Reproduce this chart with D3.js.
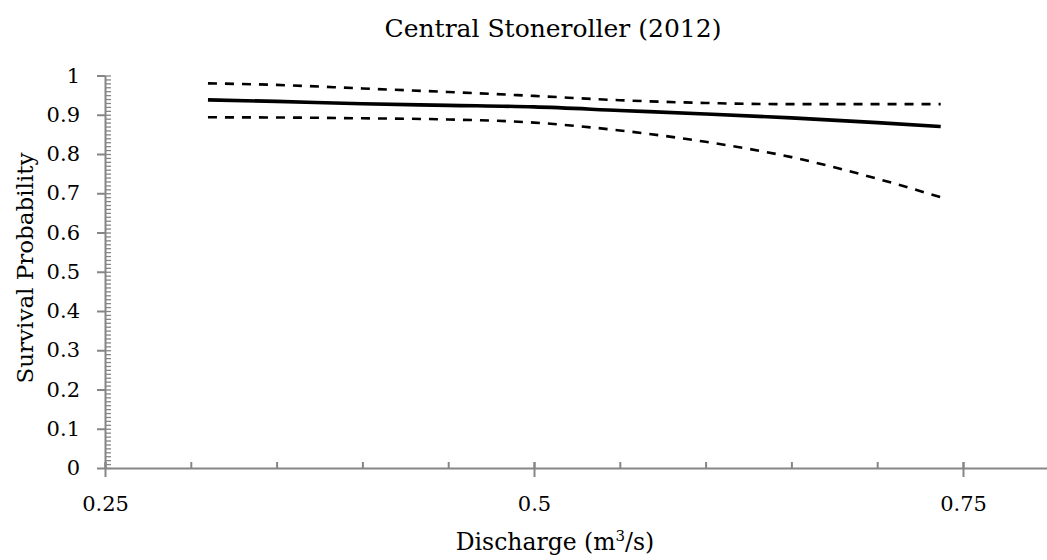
<!DOCTYPE html>
<html><head><meta charset="utf-8">
<script src="https://cdn.jsdelivr.net/npm/d3@7/dist/d3.min.js"></script>
<style>body{margin:0;background:#fff}svg{display:block}text{font-family:"DejaVu Serif",serif;fill:#000}</style>
</head><body><svg id="c" width="1047" height="560"></svg>
<script>
const discharge = [0.31, 0.35, 0.40, 0.45, 0.50, 0.55, 0.60, 0.65, 0.70, 0.737];
const survival  = [0.938, 0.934, 0.928, 0.924, 0.920, 0.911, 0.902, 0.892, 0.880, 0.870];
const upperCI   = [0.980, 0.976, 0.967, 0.958, 0.948, 0.937, 0.930, 0.927, 0.927, 0.927];
const lowerCI   = [0.8935, 0.893, 0.891, 0.888, 0.880, 0.860, 0.831, 0.792, 0.737, 0.690];
const xTickLabels = [0.25, 0.5, 0.75];
const yTickLabels = [0, 0.1, 0.2, 0.3, 0.4, 0.5, 0.6, 0.7, 0.8, 0.9, 1];

const svg = d3.select("#c");
const x = d3.scaleLinear().domain([0.25, 0.8]).range([105, 1048.8]);
const y = d3.scaleLinear().domain([0, 1]).range([468, 75.5]);
const grey = "#868686";
const FONT = '"DejaVu Serif",serif';

// y minor ticks (inside)
const yMinor = d3.range(0, 101).map(i => i / 100);
svg.append("g").attr("transform", `translate(${x(0.25)},0)`)
  .call(d3.axisRight(y).tickValues(yMinor).tickSize(6).tickFormat(""))
  .call(g => { g.select(".domain").remove(); g.selectAll("line").attr("stroke", grey).attr("stroke-width", 1.3); });
// y major
svg.append("g").attr("transform", `translate(${x(0.25)},0)`)
  .call(d3.axisLeft(y).tickValues(yTickLabels).tickSize(8).tickSizeOuter(0).tickPadding(17)
        .tickFormat(d => d === 0 ? "0" : d === 1 ? "1" : d3.format(".1f")(d)))
  .call(g => {
    g.select(".domain").attr("stroke", grey).attr("stroke-width", 2);
    g.selectAll("line").attr("stroke", grey).attr("stroke-width", 2);
    g.selectAll("text").style("font-family", FONT).style("font-size", "21px").attr("fill", "#000");
  });
// x minor ticks (up)
const xMinor = d3.range(0, 11).map(i => 0.25 + i * 0.05).filter(v => v < 0.8);
svg.append("g").attr("transform", `translate(0,${y(0)})`)
  .call(d3.axisTop(x).tickValues(xMinor).tickSize(6).tickFormat(""))
  .call(g => { g.select(".domain").remove(); g.selectAll("line").attr("stroke", grey).attr("stroke-width", 2); });
// x major
svg.append("g").attr("transform", `translate(0,${y(0)})`)
  .call(d3.axisBottom(x).tickValues(xTickLabels).tickSize(9).tickSizeOuter(0).tickPadding(19).tickFormat(d3.format("")))
  .call(g => {
    g.select(".domain").attr("stroke", grey).attr("stroke-width", 2);
    g.selectAll("line").attr("stroke", grey).attr("stroke-width", 2).attr("y1", -6);
    g.selectAll("text").style("font-family", FONT).style("font-size", "21px").attr("fill", "#000");
  });

const pts = arr => discharge.map((d, i) => [d, arr[i]]);
const line = d3.line().x(d => x(d[0])).y(d => y(d[1])).curve(d3.curveMonotoneX);
svg.append("path").attr("d", line(pts(upperCI))).attr("fill", "none").attr("stroke", "#000").attr("stroke-width", 2.6).attr("stroke-dasharray", "9,8");
svg.append("path").attr("d", line(pts(lowerCI))).attr("fill", "none").attr("stroke", "#000").attr("stroke-width", 2.6).attr("stroke-dasharray", "9,8");
svg.append("path").attr("d", line(pts(survival))).attr("fill", "none").attr("stroke", "#000").attr("stroke-width", 3.6);

svg.append("text").attr("x", 553).attr("y", 37).attr("text-anchor", "middle").style("font-size", "25px").text("Central Stoneroller (2012)");
const xl = svg.append("text").attr("x", 555).attr("y", 550).attr("text-anchor", "middle").style("font-size", "23.5px");
xl.append("tspan").text("Discharge (m");
xl.append("tspan").attr("dy", -9).style("font-size", "15px").text("3");
xl.append("tspan").attr("dy", 9).text("/s)");
svg.append("text").attr("transform", "translate(33,268) rotate(-90)").attr("text-anchor", "middle").style("font-size", "23px").text("Survival Probability");
</script></body></html>
